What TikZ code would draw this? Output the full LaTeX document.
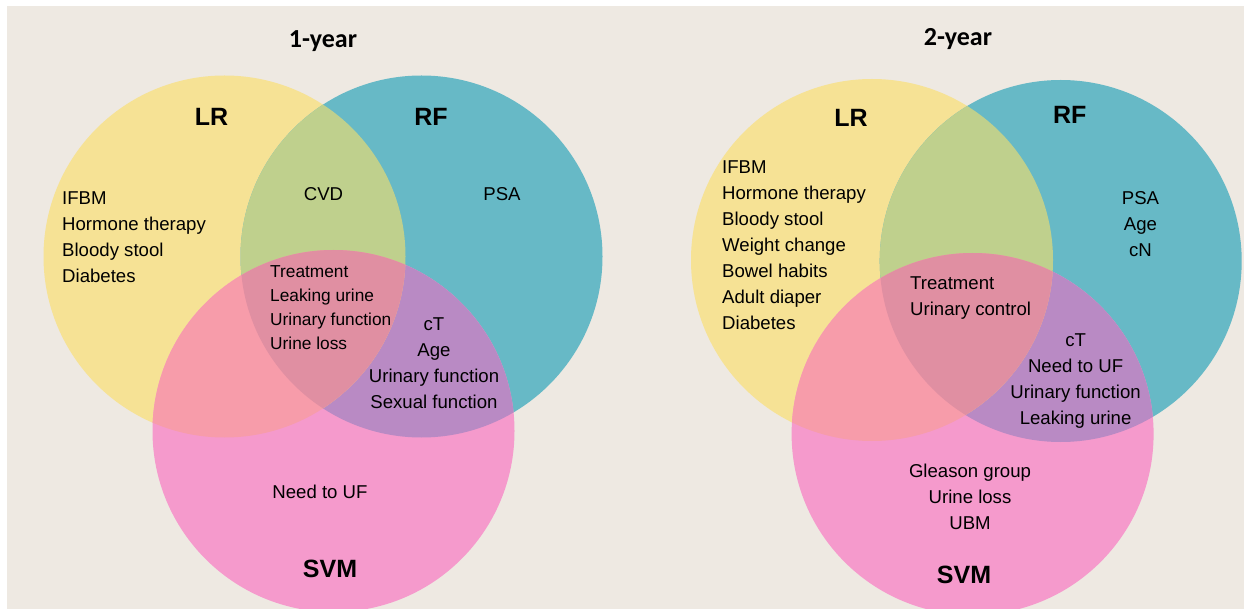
\documentclass[tikz,border=0pt]{standalone}
\usepackage{fontspec}
\setmainfont{Liberation Sans}
\newfontfamily\titlefont{Carlito}

\definecolor{lrcol}{HTML}{F6E295}
\definecolor{rfcol}{HTML}{67B9C6}
\definecolor{svmcol}{HTML}{F59ACC}
\definecolor{lrrfcol}{HTML}{BFD08D}
\definecolor{lrsvmcol}{HTML}{F79CAA}
\definecolor{rfsvmcol}{HTML}{B98AC4}
\definecolor{allcol}{HTML}{E08FA2}
\definecolor{paper}{HTML}{EEE9E2}

% three circles, every overlap with its own colour
\newcommand{\vennset}[3]{%
  \fill[lrcol] (#1) circle (181pt);
  \fill[rfcol] (#2) circle (181pt);
  \fill[svmcol] (#3) circle (181pt);
  \begin{scope}
    \clip (#2) circle (181pt);
    \fill[rfsvmcol] (#3) circle (181pt);
  \end{scope}
  \begin{scope}
    \clip (#1) circle (181pt);
    \fill[lrrfcol] (#2) circle (181pt);
    \fill[lrsvmcol] (#3) circle (181pt);
    \clip (#2) circle (181pt);
    \fill[allcol] (#3) circle (181pt);
  \end{scope}}

\begin{document}
\begin{tikzpicture}
[
x=1pt, y=-1pt,
ttl/.style={font=\titlefont\bfseries\fontsize{26}{30}\selectfont},
setname/.style={font=\bfseries\fontsize{25}{30}\selectfont},
item/.style={font=\fontsize{18.6}{25.9}\selectfont, align=center, inner sep=0pt},
itemleft/.style={item, align=left, anchor=west},
small/.style={font=\fontsize{17.3}{24}\selectfont}
]

\useasboundingbox (0,0) rectangle (1244,609);
\fill[white] (0,0) rectangle (1244,609);
\fill[paper] (7,6) rectangle (1244,609);

% 1-year
\vennset{224.5,256.5}{421.5,256.5}{333.5,431}
\node[ttl] (title1) at (323,41) {1-year};
\node[setname] (lr1) at (211.5,116.5) {LR};
\node[setname] (rf1) at (431,116.5) {RF};
\node[setname] (svm1) at (330,569) {SVM};
\node[itemleft] (lronly1) at (62,237) {IFBM\\Hormone therapy\\Bloody stool\\Diabetes};
\node[item] (lrrf1) at (323.5,194) {CVD};
\node[item] (rfonly1) at (502,194) {PSA};
\node[itemleft, small] (all1) at (270,307.5) {Treatment\\Leaking urine\\Urinary function\\Urine loss};
\node[item] (rfsvm1) at (434,363) {cT\\Age\\Urinary function\\Sexual function};
\node[item] (svmonly1) at (320,492) {Need to UF};

% 2-year
\vennset{872,260}{1060.7,261}{972.6,434}
\node[ttl] (title2) at (958,39) {2-year};
\node[setname] (lr2) at (851,118.4) {LR};
\node[setname] (rf2) at (1069.7,114.6) {RF};
\node[setname] (svm2) at (964,574.8) {SVM};
\node[itemleft] (lronly2) at (722,245) {IFBM\\Hormone therapy\\Bloody stool\\Weight change\\Bowel habits\\Adult diaper\\Diabetes};
\node[item] (rfonly2) at (1140.5,224) {PSA\\Age\\cN};
\node[itemleft] (all2) at (910,298) {Treatment\\Urinary control};
\node[item] (rfsvm2) at (1075.6,381) {cT\\Need to UF\\Urinary function\\Leaking urine};
\node[item] (svmonly2) at (970,497) {Gleason group\\Urine loss\\UBM};
\end{tikzpicture}
\end{document}
